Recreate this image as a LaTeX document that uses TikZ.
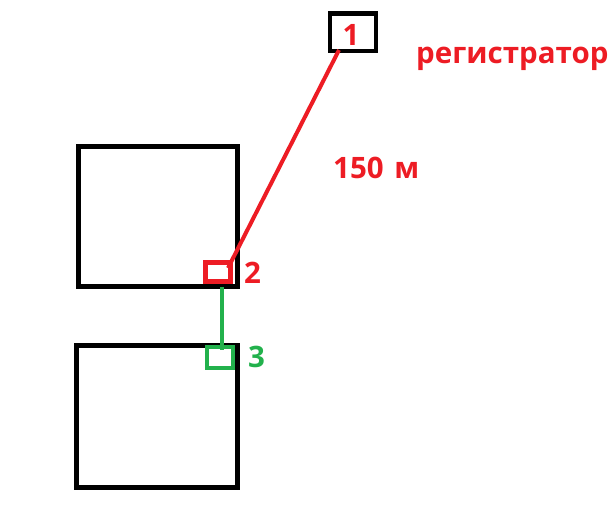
\documentclass[tikz,border=0pt]{standalone}
\usepackage{fontspec}
\setmainfont{Open Sans}
\definecolor{pred}{HTML}{ED1C24}
\definecolor{pgreen}{HTML}{22B14C}
\tikzset{
  box/.style={draw=black, line width=5pt, inner sep=0pt},
  smallbox/.style={draw, line width=4.5pt, inner sep=0pt},
  lbl/.style={font=\fontsize{29.5}{29.5}\selectfont\bfseries, inner sep=0pt, anchor=base west},
  wire/.style={line width=4pt}
}
\begin{document}
\begin{tikzpicture}[x=1pt,y=-1pt]
\useasboundingbox (0,0) rectangle (616,523);
% big boxes
\node[box, minimum width=159pt, minimum height=140pt] (bA) at (158,216.5) {};
\node[box, minimum width=161pt, minimum height=142pt] (bB) at (157,416.5) {};
% registrator box
\node[box, line width=4.8pt, minimum width=46pt, minimum height=37.5pt] (r1) at (353,32.25) {};
% small boxes
\node[smallbox, draw=pred, minimum width=25pt, minimum height=19pt] (r2) at (218,272) {};
\node[smallbox, draw=pgreen, minimum width=26pt, minimum height=21pt] (g3) at (220,357.5) {};
% labels
\node[lbl, text=pred, anchor=base] (t1) at (351,45) {1};
\node[lbl, text=pred] (treg) at (416,63) {регистратор};
\node[lbl, text=pred] (tdist) at (333,178) {150\hspace{3pt} м};
\node[lbl, text=pred] (t2) at (244,283) {2};
\node[lbl, text=pgreen] (t3) at (248,367) {3};
% connectors
\coordinate (c1) at (339,50);
\coordinate (c2) at (228,268);
\coordinate (c3) at (222,287);
\coordinate (c4) at (222,350);
\draw[wire, pred] (c1) -- (c2);
\draw[wire, pgreen] (c3) -- (c4);
\end{tikzpicture}
\end{document}
